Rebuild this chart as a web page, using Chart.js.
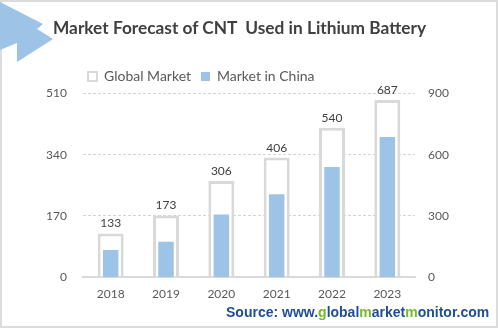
<!DOCTYPE html>
<html lang="en">
<head>
  <meta charset="UTF-8" />
  <title>Market Forecast of CNT Used in Lithium Battery</title>
  <script src="https://cdn.jsdelivr.net/npm/chart.js"></script>
  <style>
    * {
      margin: 0;
      padding: 0;
      box-sizing: border-box;
    }

    body {
      width: 498px;
      height: 329px;
      background: #ffffff;
      overflow: hidden;
      font-family: Lato, 'Open Sans', sans-serif;
    }

    .card {
      position: absolute;
      left: 0;
      top: 0;
      width: 498px;
      height: 328px;
      border: 2px solid #dcdcdc;
    }

    .arrow {
      position: absolute;
      left: 0;
      top: 0;
      width: 60px;
      height: 66px;
      background: #9dc3e6;
      clip-path: polygon(0px 2px, 43px 24px, 37px 29px, 53px 39px, 17px 62px, 17px 43px, 0px 50px);
    }

    .title {
      position: absolute;
      left: 53px;
      top: 17px;
      font-size: 17.3px;
      font-weight: bold;
      color: #404040;
      white-space: pre;
    }

    .source {
      position: absolute;
      left: 226px;
      top: 304px;
      font-family: 'Liberation Sans', Arial, sans-serif;
      font-size: 14px;
      font-weight: bold;
      color: #1f4e96;
      white-space: pre;
    }

    .source span {
      color: #76b82a;
    }

    canvas {
      position: absolute;
      left: 0;
      top: 0;
    }
  </style>
</head>
<body>
  <div class="card"></div>
  <canvas id="cntChart" width="498" height="329"></canvas>
  <div class="arrow"></div>
  <div class="title">Market Forecast of CNT  Used in Lithium Battery</div>
  <div class="source">Source: www.<span>g</span>lobal<span>m</span>arket<span>m</span>onitor.com</div>

  <script>
    const years = ['2018', '2019', '2020', '2021', '2022', '2023'];
    const globalMarket = [121, 171, 267, 332, 415, 492];
    const chinaMarket = [133, 173, 306, 406, 540, 687];

    const leftTicks = [0, 170, 340, 510];
    const rightTicks = [0, 300, 600, 900];

    // values printed above the outer bars
    const valueLabels = {
      id: 'valueLabels',
      afterDatasetsDraw(chart) {
        const ctx = chart.ctx;
        const bars = chart.getDatasetMeta(0).data;
        ctx.save();
        ctx.font = '12px Lato';
        ctx.fillStyle = '#404040';
        ctx.textAlign = 'center';
        ctx.textBaseline = 'alphabetic';
        bars.forEach((bar, i) => {
          ctx.fillText(chinaMarket[i], bar.x, bar.y - 6);
        });
        ctx.restore();
      }
    };

    // legend: fixed height, and moved right to sit over the plot
    const legendPlace = {
      id: 'legendPlace',
      beforeInit(chart) {
        const fit = chart.legend.fit;
        chart.legend.fit = function () {
          fit.bind(chart.legend)();
          this.height = 34;
        };
      },
      afterLayout(chart) {
        chart.legend.left = 78;
      }
    };

    const ctx = document.getElementById('cntChart').getContext('2d');
    const chart = new Chart(ctx, {
      type: 'bar',
      data: {
        labels: years,
        datasets: [
          {
            label: 'Global Market',
            data: globalMarket,
            yAxisID: 'y',
            backgroundColor: '#ffffff',
            borderColor: '#d9d9d9',
            borderWidth: 3,
            barPercentage: 0.47,
            categoryPercentage: 1,
            order: 1
          },
          {
            label: 'Market in China',
            data: chinaMarket,
            yAxisID: 'y1',
            backgroundColor: '#9dc3e6',
            borderWidth: 0,
            barPercentage: 0.28,
            categoryPercentage: 1,
            order: 0
          }
        ]
      },
      options: {
        responsive: false,
        animation: false,
        grouped: false,
        layout: {
          padding: { left: 0, top: 59.5, right: 0, bottom: 0 }
        },
        plugins: {
          tooltip: { enabled: false },
          legend: {
            position: 'top',
            align: 'start',
            labels: {
              boxWidth: 9,
              boxHeight: 9,
              padding: 10,
              color: '#595959',
              font: { family: 'Lato', size: 14 },
              generateLabels(chart) {
                const items = Chart.defaults.plugins.legend.labels.generateLabels(chart);
                items.sort((a, b) => a.datasetIndex - b.datasetIndex);
                items.forEach(item => {
                  item.lineWidth = item.datasetIndex === 0 ? 2 : 0;
                });
                return items;
              }
            }
          }
        },
        scales: {
          x: {
            grid: { display: false, drawTicks: false },
            border: { color: '#d9d9d9', width: 2 },
            ticks: {
              color: '#595959',
              font: { family: 'Lato', size: 12 },
              padding: 10
            },
            afterFit(scale) {
              scale.height = 52;
            }
          },
          y: {
            position: 'left',
            min: 0,
            max: 510,
            afterBuildTicks(scale) {
              scale.ticks = leftTicks.map(v => ({ value: v }));
            },
            grid: {
              drawTicks: false,
              color: ctx => ctx.tick.value === 0 ? 'rgba(0,0,0,0)' : '#d4d4d4',
              lineWidth: 1
            },
            border: { display: false, dash: [3, 2] },
            ticks: {
              color: '#595959',
              font: { family: 'Lato', size: 12 },
              padding: 16
            },
            afterFit(scale) {
              scale.width = 83;
            }
          },
          y1: {
            position: 'right',
            min: 0,
            max: 900,
            afterBuildTicks(scale) {
              scale.ticks = rightTicks.map(v => ({ value: v }));
            },
            grid: { display: false, drawTicks: false },
            border: { display: false },
            ticks: {
              color: '#595959',
              font: { family: 'Lato', size: 12 },
              padding: 13
            },
            afterFit(scale) {
              scale.width = 83;
            }
          }
        }
      },
      plugins: [valueLabels, legendPlace]
    });
  </script>
</body>
</html>
